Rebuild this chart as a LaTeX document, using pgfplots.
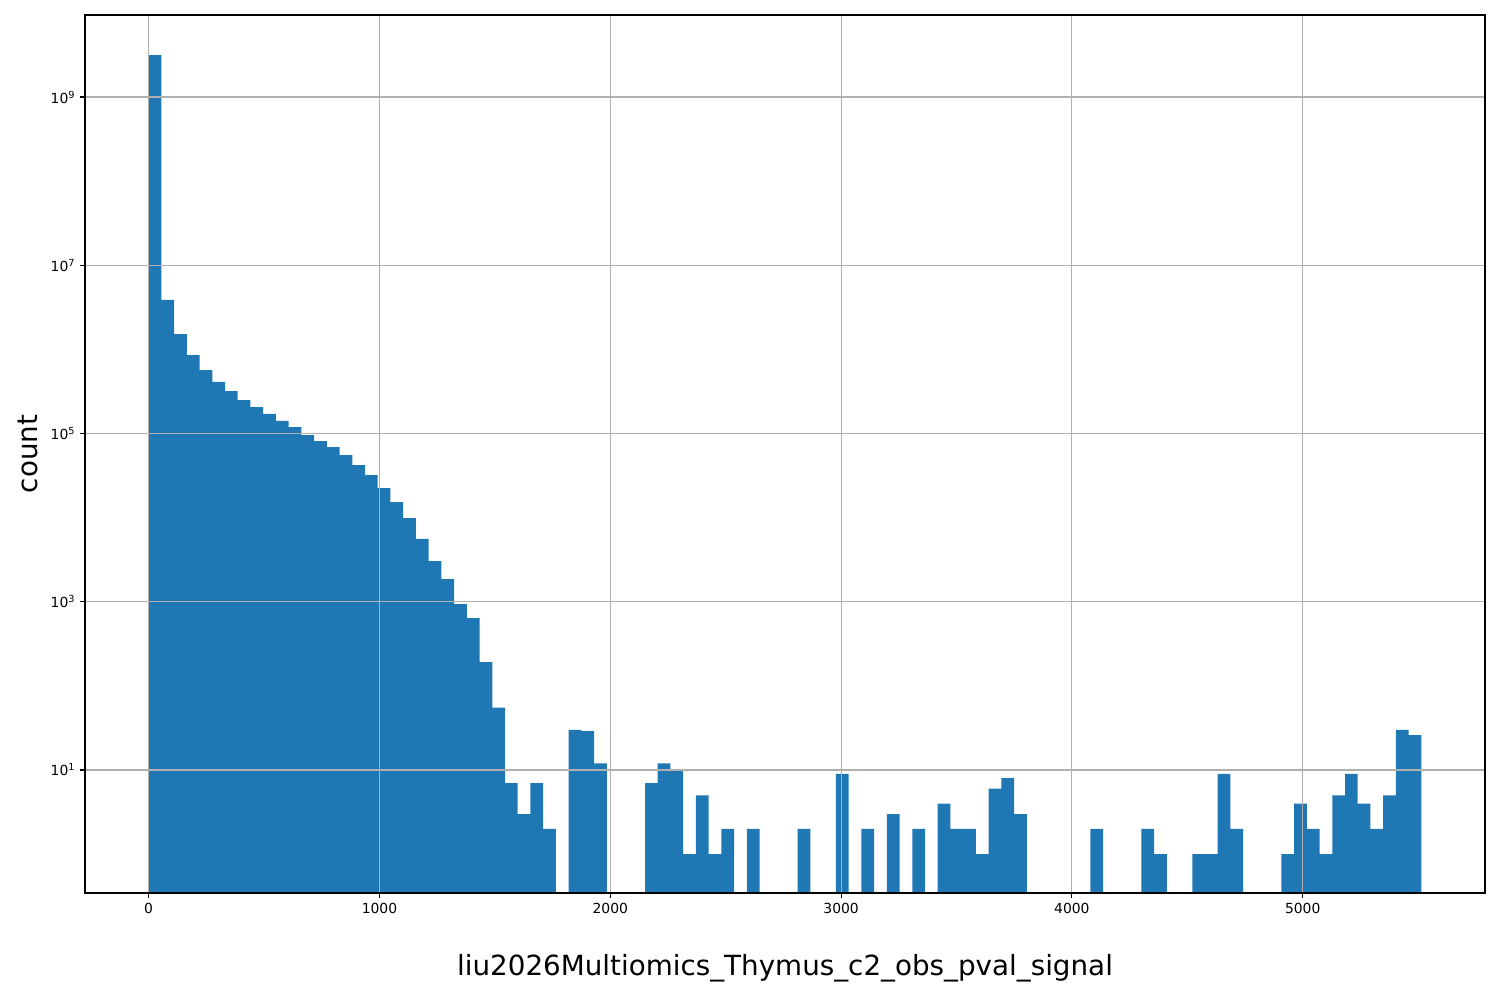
\documentclass[border=0pt]{standalone}
\usepackage{pgfplots}
\pgfplotsset{compat=1.18}
\usepackage{fontspec}
\setmainfont{DejaVu Sans}
\definecolor{c1}{HTML}{1F77B4}
\definecolor{gridc}{HTML}{B0B0B0}
\begin{document}
\begin{tikzpicture}
\begin{axis}[
 scale only axis, width=1008pt, height=632.16pt,
 xmin=-275.7, xmax=5789.7,
 ymode=log, ymin=0.345, ymax=9.45e9,
 log origin=infty,
 xtick={0,1000,2000,3000,4000,5000},
 ytick={1e1,1e3,1e5,1e7,1e9},
 yticklabels={10\textsuperscript{1},10\textsuperscript{3},10\textsuperscript{5},10\textsuperscript{7},10\textsuperscript{9}},
 grid=major, major grid style={gridc, line width=0.8pt},
 axis line style={line width=0.8pt},
 tick style={black, line width=0.8pt},
 major tick length=3.5pt,
 tick align=outside, tick pos=left,
 yminorticks=false, xminorticks=false,
 axis on top,
 ticklabel style={font=\fontsize{10}{12}\selectfont},
 /pgf/number format/assume math mode=true,
 /pgf/number format/1000 sep={},
 scaled x ticks=false,
 xlabel={liu2026Multiomics\_Thymus\_c2\_obs\_pval\_signal},
 ylabel={count},
 label style={font=\fontsize{20}{24}\selectfont},
 xlabel style={at={(axis description cs:0.5,-0.0854)},anchor=center},
 ylabel style={at={(axis description cs:-0.0407,0.5)},anchor=center},
]
\addplot[ybar, bar width=55.14, bar shift=0pt, fill=c1, draw=none] coordinates {
(27.57,3.16e9) (82.71,3.87e6) (137.85,1.52e6) (192.99,8.57e5) (248.13,5.69e5)
(303.27,4.1e5) (358.41,3.2e5) (413.55,2.5e5) (468.69,2.06e5) (523.83,1.71e5)
(578.97,1.41e5) (634.11,1.19e5) (689.25,9.6e4) (744.39,8.1e4) (799.53,6.9e4)
(854.67,5.55e4) (909.81,4.2e4) (964.95,3.2e4) (1020.09,2.25e4) (1075.23,1.53e4)
(1130.37,9900) (1185.51,5600) (1240.65,3050) (1295.79,1860) (1350.93,940)
(1406.07,641) (1461.21,192) (1516.35,55) (1571.49,7) (1626.63,3)
(1681.77,7) (1736.91,2) (1847.19,30) (1902.33,29) (1957.47,12)
(2178.03,7) (2233.17,12) (2288.31,10) (2343.45,1) (2398.59,5)
(2453.73,1) (2508.87,2) (2619.15,2) (2839.71,2) (3005.13,9)
(3115.41,2) (3225.69,3) (3335.97,2) (3446.25,4) (3501.39,2)
(3556.53,2) (3611.67,1) (3666.81,6) (3721.95,8) (3777.09,3)
(4107.93,2) (4328.49,2) (4383.63,1) (4549.05,1) (4604.19,1)
(4659.33,9) (4714.47,2) (4935.03,1) (4990.17,4) (5045.31,2)
(5100.45,1) (5155.59,5) (5210.73,9) (5265.87,4) (5321.01,2)
(5376.15,5) (5431.29,30) (5486.43,26)
};
\end{axis}
\path ([shift={(-61.2pt,-77.04pt)}]current axis.south west) rectangle ([shift={(10.8pt,10.8pt)}]current axis.north east);
\end{tikzpicture}
\end{document}
